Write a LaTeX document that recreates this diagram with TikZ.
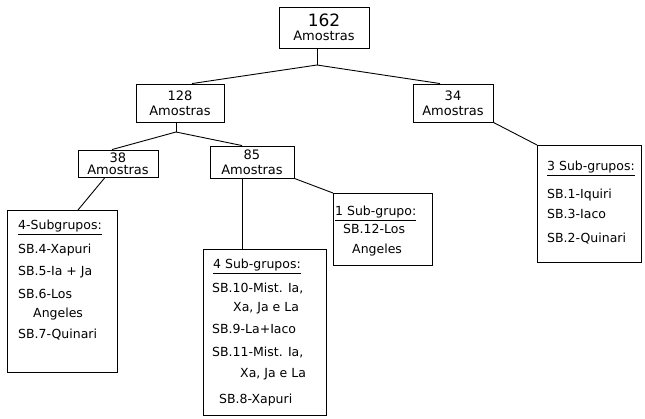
\documentclass[tikz,border=0pt]{standalone}
\usepackage{fontspec}
\setmainfont{DejaVu Sans}
\usetikzlibrary{calc}

\begin{document}
\begin{tikzpicture}[x=1pt,y=-1pt,
    box/.style={draw, line width=0.9pt, inner sep=0pt, align=center,
        font=\fontsize{13}{15}\selectfont},
    link/.style={line width=0.9pt},
    listtext/.style={anchor=north west, inner sep=0pt, align=left,
        font=\fontsize{12.5}{15}\selectfont}]

    \useasboundingbox (0,0) rectangle (645,418);

    % Total
    \node[box, minimum width=90, minimum height=41] (total) at (324,27.5)
        {{\fontsize{17}{17}\selectfont 162}\\[-1pt]Amostras};
    \coordinate (split1) at (317,65);
    \draw[link] (total.south -| split1) -- (split1);

    % Second level
    \node[box, minimum width=88, minimum height=38] (s128) at (180,103) {128\\Amostras};
    \node[box, minimum width=80, minimum height=38] (s34) at (453,103) {34\\Amostras};
    \draw[link] (split1) -- ([xshift=12]s128.north);
    \draw[link] (split1) -- ([xshift=-13]s34.north);

    % Third level
    \coordinate (split2) at (176,132);
    \draw[link] (s128.south -| split2) -- (split2);
    \node[box, minimum width=80, minimum height=27,
        font=\fontsize{13}{12}\selectfont] (s38) at (118,163.5) {38\\Amostras};
    \node[box, minimum width=84, minimum height=32] (s85) at (252,162) {85\\Amostras};
    \draw[link] (split2) -- ([xshift=-6]s38.north);
    \draw[link] (split2) -- ([xshift=-10]s85.north);

    % Sub-groups of 38
    \node[box, minimum width=110, minimum height=162, anchor=north west] (g38) at (7,210) {};
    \draw[link] ([xshift=-13]s38.south) -- ([xshift=71]g38.north west);
    \node[listtext] (g38list) at (18,220) {\underline{4-Subgrupos:}\\[9pt]
        SB.4-Xapuri\\[7pt]
        SB.5-Ia + Ja\\[8pt]
        SB.6-Los\\[4pt]
        \hspace{15pt}Angeles\\[6pt]
        SB.7-Quinari};

    % Sub-groups of 85
    \node[box, minimum width=123, minimum height=166, anchor=north west] (g85) at (203,249) {};
    \draw[link] ([xshift=-10]s85.south) -- ([xshift=39]g85.north west);
    \node[listtext] (g85list) at (212,259) {\hspace{1pt}\underline{4 Sub-grupos:}\\[9pt]
        SB.10-Mist. Ia,\\[4pt]
        \hspace{21pt}Xa, Ja e La\\[7pt]
        SB.9-La+Iaco\\[8pt]
        SB.11-Mist. Ia,\\[6pt]
        \hspace{28pt}Xa, Ja e La\\[11pt]
        \hspace{7pt}SB.8-Xapuri};

    \node[box, minimum width=99, minimum height=72, anchor=north west] (g85b) at (333,193) {};
    \draw[link] (s85.south east) -- (g85b.north west);
    \node[listtext] (g85blist) at (335,206) {\underline{1 Sub-grupo:}\\[3pt]
        \hspace{8pt}SB.12-Los\\[5pt]
        \hspace{17pt}Angeles};

    % Sub-groups of 34
    \node[box, minimum width=104, minimum height=117, anchor=north west] (g34) at (537,145) {};
    \draw[link] (s34.south east) -- (g34.north west);
    \node[listtext] (g34list) at (547,161) {\underline{3 Sub-grupos:}\\[13pt]
        SB.1-Iquiri\\[5pt]
        SB.3-Iaco\\[9pt]
        SB.2-Quinari};
\end{tikzpicture}
\end{document}
